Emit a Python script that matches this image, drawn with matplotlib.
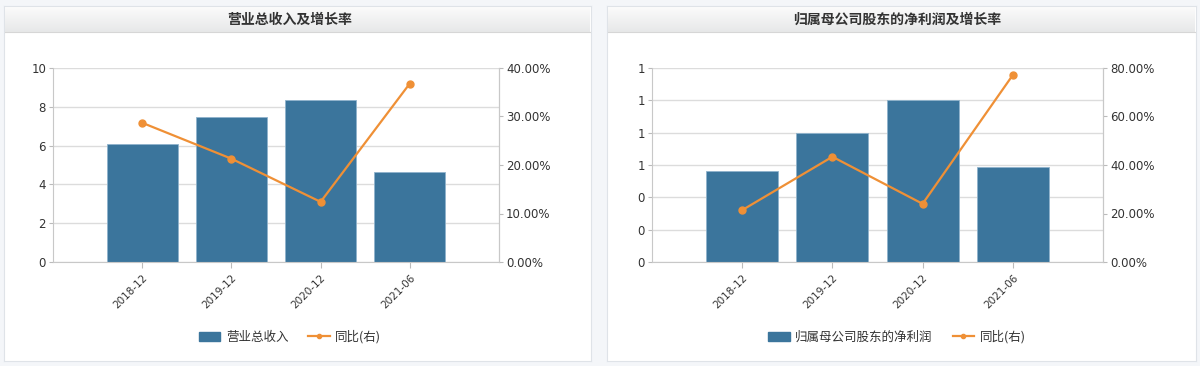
import numpy as np
import matplotlib
matplotlib.use("Agg")
import matplotlib.pyplot as plt
from matplotlib.patches import Patch
from matplotlib.lines import Line2D
from matplotlib.ticker import FuncFormatter, MultipleLocator

plt.rcParams['font.family'] = ['DejaVu Sans', 'Noto Sans CJK SC']

categories = ['2018-12', '2019-12', '2020-12', '2021-06']
revenue = [6.1, 7.46, 8.35, 4.65]
revenue_yoy = [28.7, 21.3, 12.4, 36.8]
profit = [0.56, 0.80, 1.00, 0.59]
profit_yoy = [21.4, 43.4, 24.0, 77.1]

titles = ['营业总收入及增长率', '归属母公司股东的净利润及增长率']
bar_names = ['营业总收入', '归属母公司股东的净利润']
line_name = '同比(右)'

W, H = 1200, 366
fig = plt.figure(figsize=(W / 100, H / 100), dpi=100)
fig.patch.set_facecolor('#f4f6f9')

BAR = '#3b759c'
ORANGE = '#ef9036'
GRID = '#dcdcdc'
TXT = '#333333'
CJK = ['Noto Sans CJK SC', 'DejaVu Sans']


def fr(x0, y0, x1, y1):
    return [x0 / W, 1 - y1 / H, (x1 - x0) / W, (y1 - y0) / H]


panels = [
    dict(box=(4, 6, 591, 361), ax=(53, 68, 499, 262), bars=revenue, line=revenue_yoy, cx=290,
         ylim=(0, 10), ystep=2, fmt=lambda v, p: '%d' % round(v), rlim=(0, 40), rstep=10),
    dict(box=(607, 6, 1196, 361), ax=(652, 68, 1103, 262), bars=profit, line=profit_yoy, cx=897,
         ylim=(0, 1.2), ystep=0.2, fmt=lambda v, p: '%.0f' % v, rlim=(0, 80), rstep=20),
]

for i, p in enumerate(panels):
    bx0, by0, bx1, by1 = p['box']
    # panel box (as a background axes)
    bax = fig.add_axes(fr(bx0, by0, bx1, by1), zorder=-5)
    bax.set_xticks([]); bax.set_yticks([])
    bax.set_facecolor('white')
    for s in bax.spines.values():
        s.set_color('#dfe3e8')
    # header gradient
    hax = fig.add_axes(fr(bx0 + 1, by0 + 1, bx1 - 1, 32), zorder=-4)
    grad = np.linspace(0, 1, 50).reshape(-1, 1)
    hax.imshow(grad, aspect='auto', cmap=matplotlib.colors.LinearSegmentedColormap.from_list(
        'g', ['#fbfbfb', '#e7e8e9']), extent=(0, 1, 0, 1))
    hax.set_xticks([]); hax.set_yticks([])
    for s in ['top', 'left', 'right']:
        hax.spines[s].set_visible(False)
    hax.spines['bottom'].set_color('#d6d6d6')
    fig.text(p['cx'] / W, 1 - 20 / H, titles[i], ha='center', va='center', fontsize=10,
             color=TXT, fontweight='bold', family=CJK)

    ax = fig.add_axes(fr(*p['ax']))
    x = np.arange(len(categories))
    ax.bar(x, p['bars'], width=0.8, color=BAR, edgecolor='#8fb3cc', linewidth=0.6, zorder=2)
    ax.set_xlim(-1, 4)
    ax.set_ylim(*p['ylim'])
    ax.yaxis.set_major_locator(MultipleLocator(p['ystep']))
    ax.yaxis.set_major_formatter(FuncFormatter(p['fmt']))
    ax.set_axisbelow(True)
    ax.grid(axis='y', color=GRID, lw=1)
    ax.set_xticks(x)
    ax.set_xticklabels(categories, rotation=45, ha='right', rotation_mode='anchor',
                       fontsize=7.5, color=TXT)
    ax.tick_params(axis='x', length=4, color='#bbbbbb', pad=4)
    ax.tick_params(axis='y', length=3, color='#bbbbbb', labelsize=8.5, labelcolor=TXT, pad=2)
    ax.spines['top'].set_visible(False)
    for s in ['left', 'bottom', 'right']:
        ax.spines[s].set_color('#c8c8c8')

    ax2 = ax.twinx()
    ax2.plot(x, p['line'], color=ORANGE, lw=1.6, marker='o', ms=5, zorder=3)
    ax2.set_ylim(*p['rlim'])
    ax2.yaxis.set_major_locator(MultipleLocator(p['rstep']))
    ax2.yaxis.set_major_formatter(FuncFormatter(lambda v, q: '%.2f%%' % v))
    ax2.tick_params(axis='y', length=3, color='#bbbbbb', labelsize=8.5, labelcolor=TXT, pad=2)
    for s in ['top', 'left', 'bottom']:
        ax2.spines[s].set_visible(False)
    ax2.spines['right'].set_color('#c8c8c8')

    handles = [Patch(facecolor=BAR, edgecolor=BAR),
               Line2D([], [], color=ORANGE, lw=1.6, marker='o', ms=3)]
    leg = ax2.legend(handles, [bar_names[i], line_name], loc='center',
                     bbox_to_anchor=(p['cx'] / W, 1 - 337 / H), bbox_transform=fig.transFigure,
                     ncol=2, frameon=False, prop={'family': CJK, 'size': 9},
                     handlelength=1.7, handleheight=0.7, columnspacing=1.6, handletextpad=0.45)
    for t in leg.get_texts():
        t.set_color(TXT)

fig.savefig('out.png', dpi=100, facecolor=fig.get_facecolor())
